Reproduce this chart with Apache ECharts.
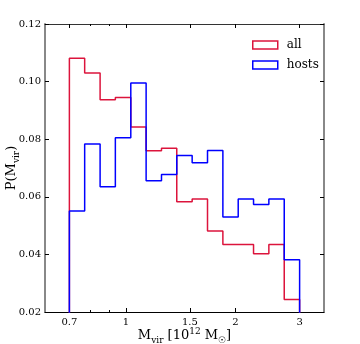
<!DOCTYPE html>
<html>
<head>
<meta charset="utf-8">
<script src="https://cdn.jsdelivr.net/npm/echarts@6/dist/echarts.min.js"></script>
<style>html,body{margin:0;padding:0;background:#fff;}#c{width:360px;height:344px;}</style>
</head>
<body>
<div id="c"></div>
<script>
// Bin edges (10^12 Msun), log-spaced from 0.7 to 3
const binEdges = [0.700, 0.771, 0.850, 0.936, 1.032, 1.137, 1.253, 1.380, 1.521, 1.676, 1.847, 2.035, 2.242, 2.470, 2.722, 3.000];
// Histogram values
const allValues   = [0.1081, 0.1030, 0.0937, 0.0945, 0.0842, 0.0760, 0.0769, 0.0583, 0.0592, 0.0481, 0.0434, 0.0434, 0.0402, 0.0434, 0.0243];
const hostsValues = [0.0551, 0.0783, 0.0635, 0.0805, 0.0995, 0.0656, 0.0677, 0.0743, 0.0718, 0.0761, 0.0530, 0.0592, 0.0573, 0.0592, 0.0381];
const seriesNames = ['all', 'hosts'];
// Tick labels
const xTickValues = [0.7, 1, 1.5, 2, 3];
const xTickLabels = ['0.7', '1', '1.5', '2', '3'];
const xMinorTicks = [0.8, 0.9];
const yTickLabels = ['0.02', '0.04', '0.06', '0.08', '0.10', '0.12'];

const RED = '#dc143c', BLUE = '#0000ff';
const FONT = 'DejaVu Serif';

function stepPoints(edges, vals) {
  const pts = [[Math.log10(edges[0]), 0]];
  for (let i = 0; i < vals.length; i++) {
    pts.push([Math.log10(edges[i]), vals[i]]);
    pts.push([Math.log10(edges[i + 1]), vals[i]]);
  }
  pts.push([Math.log10(edges[edges.length - 1]), 0]);
  return pts;
}

const xmin = Math.log10(0.6), xmax = Math.log10(3.5);
const majorLog = xTickValues.map(Math.log10);
const minorLog = xMinorTicks.map(Math.log10);
function xLabel(v) {
  for (let i = 0; i < majorLog.length; i++) if (Math.abs(majorLog[i] - v) < 1e-6) return xTickLabels[i];
  return '';
}

const chart = echarts.init(document.getElementById('c'), null, {renderer: 'canvas'});
const baseX = {type: 'value', min: xmin, max: xmax, splitLine: {show: false}};
chart.setOption({
  animation: false,
  backgroundColor: '#fff',
  grid: {left: 45, top: 24, right: 36, bottom: 32, containLabel: false, outerBoundsMode: 'none'},
  legend: {
    orient: 'vertical', left: 247, top: 34, itemWidth: 25, itemHeight: 8, itemGap: 8,
    icon: 'rect',
    textStyle: {fontFamily: FONT, fontSize: 12, color: '#000', padding: [0, 0, 0, 4]},
    data: [
      {name: seriesNames[0], itemStyle: {color: 'transparent', borderColor: RED, borderWidth: 1.5}},
      {name: seriesNames[1], itemStyle: {color: 'transparent', borderColor: BLUE, borderWidth: 1.5}}
    ]
  },
  xAxis: [
    Object.assign({}, baseX, {
      position: 'bottom',
      axisLine: {onZero: false, lineStyle: {color: '#000', width: 1}},
      axisTick: {inside: true, length: 4, customValues: majorLog, lineStyle: {color: '#000'}},
      axisLabel: {customValues: majorLog, formatter: xLabel, fontFamily: FONT, fontSize: 10, color: '#000', margin: 5},
      name: 'M{sub|vir} [10{sup|12} M{sub|☉}]',
      nameLocation: 'middle', nameGap: 15, nameMoveOverlap: false,
      nameTextStyle: {fontFamily: FONT, fontSize: 13, color: '#000', lineHeight: 18,
        rich: {sub: {fontFamily: FONT, fontSize: 9, verticalAlign: 'bottom', lineHeight: 10},
               sup: {fontFamily: FONT, fontSize: 9, verticalAlign: 'top', lineHeight: 10}}}
    }),
    Object.assign({}, baseX, {
      position: 'bottom',
      axisLine: {show: false, onZero: false},
      axisTick: {inside: true, length: 2, customValues: minorLog, lineStyle: {color: '#000'}},
      axisLabel: {show: false}
    }),
    Object.assign({}, baseX, {
      position: 'top',
      axisLine: {onZero: false, lineStyle: {color: '#333', width: 1}},
      axisTick: {inside: true, length: 4, customValues: majorLog, lineStyle: {color: '#000'}},
      axisLabel: {show: false}
    }),
    Object.assign({}, baseX, {
      position: 'top',
      axisLine: {show: false, onZero: false},
      axisTick: {inside: true, length: 2, customValues: minorLog, lineStyle: {color: '#000'}},
      axisLabel: {show: false}
    })
  ],
  yAxis: [
    {
      type: 'value', min: 0.02, max: 0.12, interval: 0.02, position: 'left',
      splitLine: {show: false},
      axisLine: {show: true, onZero: false, lineStyle: {color: '#888', width: 2}},
      axisTick: {show: true, inside: true, length: 4, lineStyle: {color: '#000'}},
      axisLabel: {fontFamily: FONT, fontSize: 10, color: '#000', margin: 4,
        formatter: v => yTickLabels[Math.round((v - 0.02) / 0.02)]},
      name: 'P(M{sub|vir})',
      nameLocation: 'middle', nameGap: 24, nameRotate: 90, nameMoveOverlap: false,
      nameTextStyle: {fontFamily: FONT, fontSize: 13, color: '#000', lineHeight: 18,
        rich: {sub: {fontFamily: FONT, fontSize: 9, verticalAlign: 'bottom', lineHeight: 10}}}
    },
    {
      type: 'value', min: 0.02, max: 0.12, interval: 0.02, position: 'right',
      splitLine: {show: false},
      axisLine: {show: true, onZero: false, lineStyle: {color: '#888', width: 2}},
      axisTick: {show: true, inside: true, length: 4, lineStyle: {color: '#000'}},
      axisLabel: {show: false}
    }
  ],
  series: [
    {name: seriesNames[0], type: 'line', xAxisIndex: 0, yAxisIndex: 0, showSymbol: false, symbol: 'none',
     clip: true, lineStyle: {color: RED, width: 1.5}, itemStyle: {color: RED},
     data: stepPoints(binEdges, allValues)},
    {name: seriesNames[1], type: 'line', xAxisIndex: 0, yAxisIndex: 0, showSymbol: false, symbol: 'none',
     clip: true, lineStyle: {color: BLUE, width: 1.5}, itemStyle: {color: BLUE},
     data: stepPoints(binEdges, hostsValues)}
  ]
});
</script>
</body>
</html>
